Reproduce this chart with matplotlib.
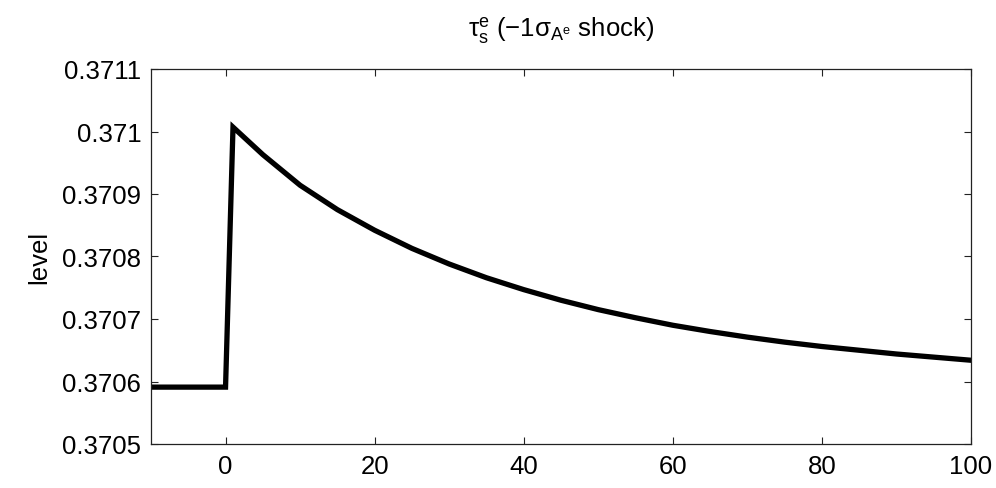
import matplotlib
matplotlib.use("Agg")
import matplotlib.pyplot as plt
from matplotlib.ticker import FormatStrFormatter

# periods and level of tau_s^e after a -1 sigma A^e shock
periods = [-10, 0, 1, 2, 5, 10, 15, 20, 25, 30, 35, 40, 45, 50,
           55, 60, 65, 70, 75, 80, 85, 90, 95, 100]
level = [0.370591, 0.370591, 0.371007, 0.370996, 0.370963, 0.370914,
         0.370875, 0.370842, 0.370813, 0.370788, 0.370766, 0.370747,
         0.370730, 0.370715, 0.370702, 0.370690, 0.370680, 0.370671,
         0.370663, 0.370656, 0.370650, 0.370644, 0.370639, 0.370634]

x_ticks = [0, 20, 40, 60, 80, 100]
y_ticks = [0.3705, 0.3706, 0.3707, 0.3708, 0.3709, 0.3710, 0.3711]

plt.rcParams["font.family"] = ["Liberation Sans", "DejaVu Sans"]
plt.rcParams["mathtext.default"] = "regular"

fig = plt.figure(figsize=(9.96, 4.89), dpi=100)
ax = fig.add_axes([151 / 996, 1 - 445 / 489, 820 / 996, 375 / 489])

ax.plot(periods, level, color="black", linewidth=3.8, solid_joinstyle="miter")

ax.set_xlim(-10, 100)
ax.set_ylim(0.3705, 0.3711)
ax.set_xticks(x_ticks)
ax.set_yticks(y_ticks)
ax.yaxis.set_major_formatter(FormatStrFormatter("%g"))
ax.tick_params(direction="in", length=5, width=0.8, top=True, right=True,
               labelsize=18.5, pad=7, colors="#222222", labelcolor="black")
for s in ax.spines.values():
    s.set_linewidth(0.9)
    s.set_color("#222222")

ax.set_ylabel("level", fontsize=18.5, labelpad=8)
ax.set_title(r"$τ_s^e$ (−1$σ_{A^e}$ shock)", fontsize=18.5, pad=24)

fig.savefig("out.png", dpi=100)
